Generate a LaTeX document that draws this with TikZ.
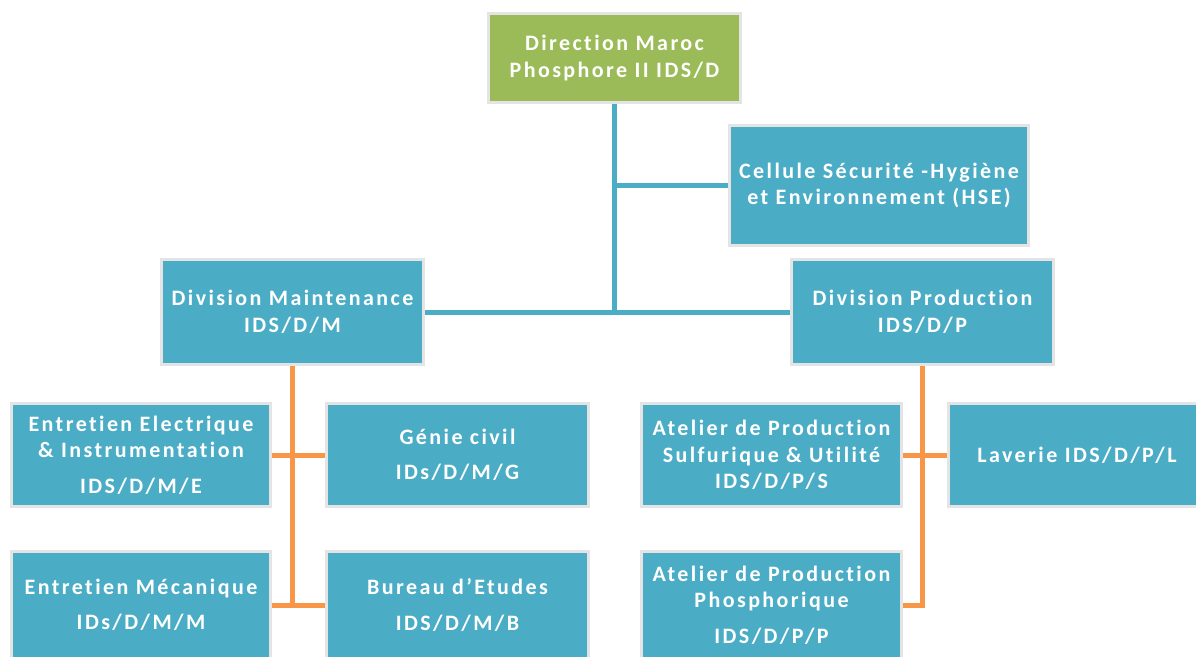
\documentclass[tikz,border=0pt]{standalone}
\usepackage{fontspec}
\setmainfont{Carlito}[LetterSpace=11, Ligatures=NoCommon]
\usepackage{tikz}

\definecolor{boxblue}{HTML}{4BACC6}
\definecolor{boxgreen}{HTML}{9BBB59}
\definecolor{linkorange}{HTML}{F79646}
\definecolor{boxedge}{HTML}{E4E4E4}

\begin{document}
\begin{tikzpicture}[x=1pt, y=-1pt,
    unit/.style={draw=boxedge, line width=3pt, fill=boxblue, text=white,
      font=\bfseries\fontsize{22}{26.5}\selectfont, align=center,
      inner sep=0pt, minimum height=103pt},
    blueline/.style={draw=boxblue, line width=5pt},
    orangeline/.style={draw=linkorange, line width=5pt}]
  \useasboundingbox (0,0) rectangle (1196,656);
  \clip (0,0) rectangle (1196,656);

  \node[unit, fill=boxgreen, minimum width=252pt, minimum height=89pt] (dir) at (614.5,58)
    {Direction Maroc\\Phosphore II IDS/D};
  \node[unit, minimum width=299pt, minimum height=120pt] (hse) at (879,185.5)
    {Cellule Sécurité -Hygiène\\et Environnement (HSE)};
  \node[unit, minimum width=262pt, minimum height=105pt] (maint) at (292.5,312)
    {Division Maintenance\\IDS/D/M};
  \node[unit, minimum width=262pt, minimum height=105pt] (prod) at (922.5,312)
    {Division Production\\IDS/D/P};

  \node[unit, minimum width=259pt] (elec) at (141,455)
    {Entretien Electrique\\\& Instrumentation\\[9pt]IDS/D/M/E};
  \node[unit, minimum width=262pt] (genie) at (457.5,455)
    {Génie civil\\[9pt]IDs/D/M/G};
  \node[unit, minimum width=259pt, minimum height=108pt] (meca) at (141,605)
    {Entretien Mécanique\\[9pt]IDs/D/M/M};
  \node[unit, minimum width=262pt, minimum height=108pt] (bureau) at (457.5,605)
    {Bureau d’Etudes\\[9pt]IDS/D/M/B};

  \node[unit, minimum width=260pt] (sulf) at (771.5,455)
    {Atelier de Production\\Sulfurique \& Utilité\\IDS/D/P/S};
  \node[unit, minimum width=258pt] (lav) at (1077,455)
    {Laverie IDS/D/P/L};
  \node[unit, minimum width=260pt, minimum height=108pt] (phos) at (771.5,605)
    {Atelier de Production\\Phosphorique\\[9pt]IDS/D/P/P};

  % direction
  \coordinate (mid) at (614.5,312);
  \coordinate (hsej) at (614.5,185.5);
  \draw[blueline] (dir.south) -- (mid);
  \draw[blueline] (hsej) -- (hse.west);
  \draw[blueline] (maint.east) -- (prod.west);

  % maintenance
  \coordinate (mlow) at (maint.south |- meca.east);
  \draw[orangeline] (maint.south) -- (mlow);
  \draw[orangeline] (elec.east) -- (genie.west);
  \draw[orangeline] (meca.east) -- (bureau.west);

  % production
  \draw[orangeline] (prod.south) |- (phos.east);
  \draw[orangeline] (sulf.east) -- (lav.west);
\end{tikzpicture}
\end{document}
